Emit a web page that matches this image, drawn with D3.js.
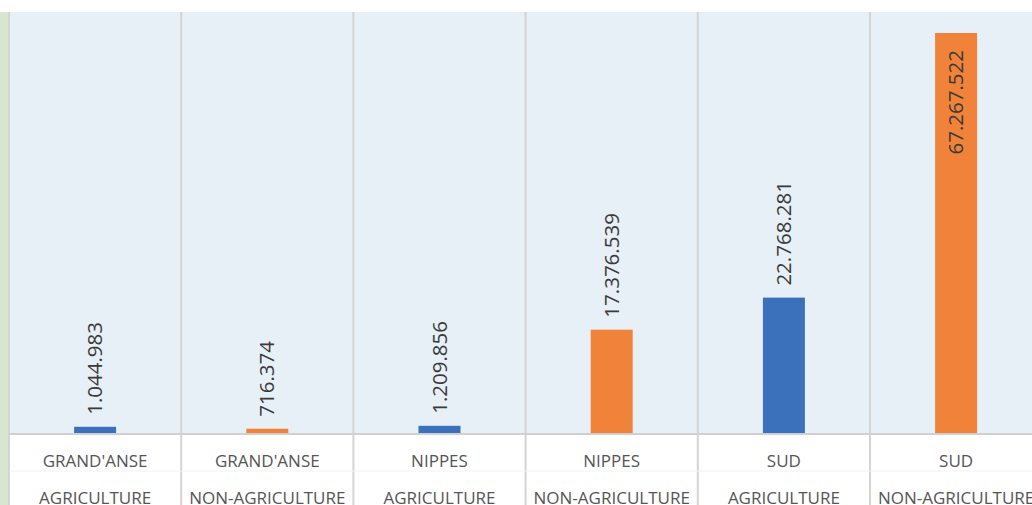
<!DOCTYPE html>
<html>
<head>
<meta charset="utf-8">
<script src="https://cdn.jsdelivr.net/npm/d3@7"></script>
<style>
  body { margin: 0; background: #fff; overflow: hidden; }
  svg { display: block; font-family: "Open Sans", sans-serif; }
</style>
</head>
<body>
<script>
//chart values
var regions = ["GRAND'ANSE", "GRAND'ANSE", "NIPPES", "NIPPES", "SUD", "SUD"];
var sectors = ["AGRICULTURE", "NON-AGRICULTURE", "AGRICULTURE", "NON-AGRICULTURE", "AGRICULTURE", "NON-AGRICULTURE"];
var values = [1044983, 716374, 1209856, 17376539, 22768281, 67267522];
var labels = ["1.044.983", "716.374", "1.209.856", "17.376.539", "22.768.281", "67.267.522"];

drawChart();

function drawChart(){
    var width = 1032,
        height = 505;

    var plotLeft = 9, plotTop = 12, baseY = 433, band = 172.2;

    var svg = d3.select("body")
        .append("svg")
        .attr("width", width)
        .attr("height", height);

    //green strip at left edge
    svg.append("rect")
        .attr("x", 0).attr("y", plotTop)
        .attr("width", 8).attr("height", height - plotTop)
        .attr("fill", "#d9e6cf");

    //plot background
    svg.append("rect")
        .attr("x", plotLeft).attr("y", plotTop)
        .attr("width", width - plotLeft).attr("height", baseY - plotTop)
        .attr("fill", "#e8f0f7");

    var x = d3.scaleBand()
        .domain(d3.range(values.length))
        .range([plotLeft, plotLeft + band * values.length]);

    var y = d3.scaleLinear()
        .domain([0, 70.8e6])
        .range([baseY, plotTop]);

    //category boundary lines
    svg.selectAll(".grid")
        .data(d3.range(values.length + 1))
        .enter()
        .append("line")
        .attr("class", "grid")
        .attr("x1", function(d){ return plotLeft + d * band; })
        .attr("x2", function(d){ return plotLeft + d * band; })
        .attr("y1", plotTop)
        .attr("y2", height)
        .attr("stroke", "#d4d4d4")
        .attr("stroke-width", 2);

    //faint line between the two label rows
    svg.append("line")
        .attr("x1", plotLeft).attr("x2", width)
        .attr("y1", 471).attr("y2", 471)
        .attr("stroke", "#f2f2f2")
        .attr("stroke-width", 1);

    //baseline
    svg.append("line")
        .attr("x1", plotLeft).attr("x2", width)
        .attr("y1", baseY + 1).attr("y2", baseY + 1)
        .attr("stroke", "#d0d0d0")
        .attr("stroke-width", 2);

    var barW = 42;

    svg.selectAll(".bar")
        .data(values)
        .enter()
        .append("rect")
        .attr("class", "bar")
        .attr("x", function(d, i){ return x(i) + x.bandwidth() / 2 - barW / 2; })
        .attr("y", function(d){ return y(d); })
        .attr("width", barW)
        .attr("height", function(d){ return baseY - y(d); })
        .attr("fill", function(d, i){ return i % 2 === 0 ? "#3b70ba" : "#f0823a"; });

    //rotated value labels, inside the bar when there is no room above it
    function fitsAbove(d){ return y(d) - 130 > plotTop; }

    svg.selectAll(".vlabel")
        .data(values)
        .enter()
        .append("text")
        .attr("class", "vlabel")
        .attr("transform", function(d, i){
            var cx = x(i) + x.bandwidth() / 2 + 7;
            var py = fitsAbove(d) ? y(d) - 12 : y(d) + 17;
            return "translate(" + cx + "," + py + ") rotate(-90)";
        })
        .attr("text-anchor", function(d){ return fitsAbove(d) ? "start" : "end"; })
        .attr("font-size", 20.5)
        .attr("fill", "#3a3a3a")
        .text(function(d, i){ return labels[i]; });

    //category labels, two rows
    svg.selectAll(".reg")
        .data(regions)
        .enter()
        .append("text")
        .attr("class", "reg")
        .attr("x", function(d, i){ return x(i) + x.bandwidth() / 2; })
        .attr("y", 467)
        .attr("text-anchor", "middle")
        .attr("font-size", 17)
        .attr("fill", "#555555")
        .text(function(d){ return d; });

    svg.selectAll(".sec")
        .data(sectors)
        .enter()
        .append("text")
        .attr("class", "sec")
        .attr("x", function(d, i){ return x(i) + x.bandwidth() / 2; })
        .attr("y", 504)
        .attr("text-anchor", "middle")
        .attr("font-size", 17)
        .attr("fill", "#555555")
        .text(function(d){ return d; });
}
</script>
</body>
</html>
